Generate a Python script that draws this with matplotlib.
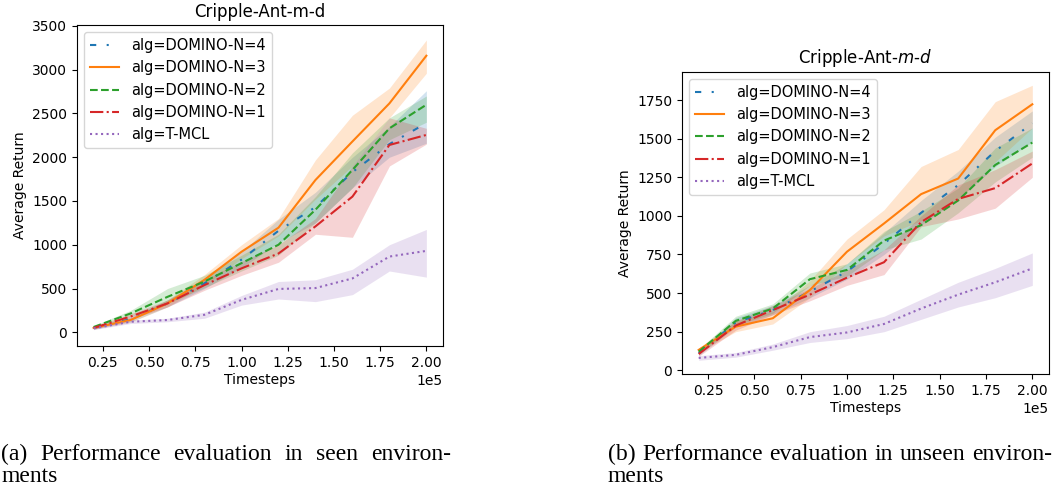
import numpy as np
import matplotlib
matplotlib.use('Agg')
import matplotlib.pyplot as plt

# timesteps (shared by both panels)
steps = [20000, 40000, 60000, 80000, 100000, 120000, 140000, 160000, 180000, 200000]

labels = ['alg=DOMINO-N=4', 'alg=DOMINO-N=3', 'alg=DOMINO-N=2',
          'alg=DOMINO-N=1', 'alg=T-MCL']

# ---- (a) seen environments: mean, lower band, upper band ----
seen_n4 = [50, 150, 330, 560, 830, 1160, 1430, 1830, 2150, 2390]
seen_n4_lo = [35, 120, 290, 500, 740, 1020, 1250, 1650, 2000, 2160]
seen_n4_hi = [65, 180, 370, 620, 920, 1290, 1600, 2000, 2350, 2760]

seen_n3 = [50, 140, 330, 600, 920, 1195, 1740, 2180, 2615, 3160]
seen_n3_lo = [35, 115, 290, 540, 840, 1100, 1520, 1900, 2450, 2960]
seen_n3_hi = [65, 165, 370, 660, 1000, 1300, 1970, 2480, 2790, 3340]

seen_n2 = [60, 215, 405, 580, 790, 1000, 1400, 1855, 2330, 2600]
seen_n2_lo = [45, 180, 330, 510, 700, 880, 1250, 1650, 2200, 2400]
seen_n2_hi = [75, 250, 500, 650, 880, 1120, 1550, 2050, 2450, 2700]

seen_n1 = [50, 180, 330, 540, 730, 900, 1210, 1550, 2140, 2255]
seen_n1_lo = [35, 150, 290, 480, 650, 800, 1120, 1085, 1900, 2150]
seen_n1_hi = [65, 210, 370, 600, 810, 1000, 1300, 1900, 2450, 2330]

seen_tmcl = [45, 120, 140, 200, 370, 495, 505, 615, 865, 930]
seen_tmcl_lo = [30, 100, 120, 160, 310, 380, 350, 430, 700, 630]
seen_tmcl_hi = [60, 140, 160, 230, 420, 580, 600, 720, 1000, 1175]

# ---- (b) unseen environments ----
unseen_n4 = [110, 310, 390, 510, 640, 820, 1020, 1200, 1420, 1600]
unseen_n4_lo = [95, 280, 360, 470, 590, 750, 940, 1110, 1320, 1480]
unseen_n4_hi = [125, 340, 420, 550, 690, 890, 1100, 1290, 1510, 1680]

unseen_n3 = [132, 283, 337, 520, 768, 951, 1141, 1242, 1555, 1723]
unseen_n3_lo = [115, 250, 300, 470, 690, 870, 970, 1100, 1350, 1570]
unseen_n3_hi = [145, 320, 380, 580, 850, 1040, 1320, 1430, 1740, 1846]

unseen_n2 = [120, 320, 400, 590, 650, 840, 940, 1100, 1330, 1475]
unseen_n2_lo = [105, 290, 370, 550, 610, 780, 850, 1020, 1220, 1380]
unseen_n2_hi = [135, 350, 430, 630, 690, 900, 1030, 1180, 1440, 1570]

unseen_n1 = [105, 290, 390, 490, 600, 700, 960, 1110, 1180, 1340]
unseen_n1_lo = [90, 260, 360, 450, 550, 620, 930, 980, 1050, 1250]
unseen_n1_hi = [120, 320, 420, 530, 650, 780, 1000, 1200, 1300, 1420]

unseen_tmcl = [80, 100, 150, 215, 245, 300, 400, 490, 570, 660]
unseen_tmcl_lo = [65, 85, 130, 180, 205, 250, 330, 410, 470, 550]
unseen_tmcl_hi = [95, 115, 170, 250, 290, 350, 460, 570, 660, 760]

colors = ['#1f77b4', '#ff7f0e', '#2ca02c', '#d62728', '#9467bd']
styles = [(0, (3, 5, 1, 5)), '-', '--', '-.', ':']


def draw_panel(ax, means, los, his, title, ylim):
    x = np.array(steps)
    for m, lo, hi, c, ls, lab in zip(means, los, his, colors, styles, labels):
        ax.fill_between(x, lo, hi, color=c, alpha=0.2, linewidth=0)
        ax.plot(x, m, color=c, linestyle=ls, linewidth=1.5, label=lab)
    ax.set_xlim(11000, 209000)
    ax.set_ylim(*ylim)
    ax.set_xlabel('Timesteps', fontsize=10, labelpad=2)
    ax.set_ylabel('Average Return', fontsize=10)
    ax.set_title(title, fontsize=12)
    ax.ticklabel_format(style='sci', axis='x', scilimits=(0, 0))
    ax.tick_params(labelsize=10)
    ax.legend(loc='upper left', fontsize=10.5)


def justify(fig, x0, x1, y, line, fontsize):
    """place words so that the line spans x0..x1 (figure pixels)"""
    words = line.split(' ')
    r = fig.canvas.get_renderer()
    texts = [fig.text(0, y, w, fontsize=fontsize, family='Liberation Serif',
                      transform=None, va='baseline') for w in words]
    widths = [t.get_window_extent(r).width for t in texts]
    gap = (x1 - x0 - sum(widths)) / max(len(words) - 1, 1)
    pos = x0
    for t, w in zip(texts, widths):
        t.set_x(pos)
        pos += w + gap


fig = plt.figure(figsize=(10.53, 4.9), dpi=100)
ax1 = fig.add_axes([77 / 1053, 1 - 346 / 490, 366 / 1053, 321 / 490])
ax2 = fig.add_axes([682 / 1053, 1 - 374.3 / 490, 367 / 1053, 302.6 / 490])

draw_panel(ax1,
           [seen_n4, seen_n3, seen_n2, seen_n1, seen_tmcl],
           [seen_n4_lo, seen_n3_lo, seen_n2_lo, seen_n1_lo, seen_tmcl_lo],
           [seen_n4_hi, seen_n3_hi, seen_n2_hi, seen_n1_hi, seen_tmcl_hi],
           'Cripple-Ant-m-d', (-157, 3511))
draw_panel(ax2,
           [unseen_n4, unseen_n3, unseen_n2, unseen_n1, unseen_tmcl],
           [unseen_n4_lo, unseen_n3_lo, unseen_n2_lo, unseen_n1_lo, unseen_tmcl_lo],
           [unseen_n4_hi, unseen_n3_hi, unseen_n2_hi, unseen_n1_hi, unseen_tmcl_hi],
           'Cripple-Ant-$m$-$d$', (-26, 1934))

# captions
cap_fs = 17
justify(fig, 1, 451, 490 - 460, '(a) Performance evaluation in seen environ-', cap_fs)
fig.text(1, 490 - 482, 'ments', fontsize=cap_fs, family='Liberation Serif',
         transform=None, va='baseline')
justify(fig, 608, 1052, 490 - 460, '(b) Performance evaluation in unseen environ-', cap_fs)
fig.text(608, 490 - 482, 'ments', fontsize=cap_fs, family='Liberation Serif',
         transform=None, va='baseline')

fig.savefig('out.png', dpi=100)
